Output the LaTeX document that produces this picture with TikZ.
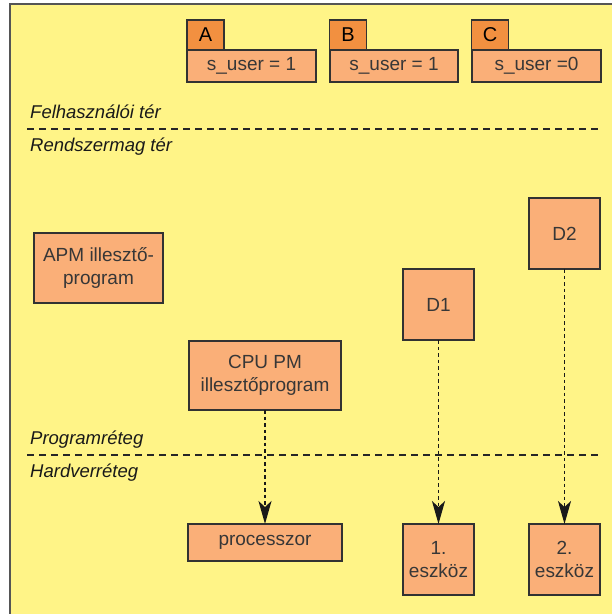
\documentclass[tikz,border=0pt]{standalone}
\usepackage{fontspec}
\setmainfont{Liberation Sans}
\usetikzlibrary{arrows.meta}
\definecolor{bgyellow}{RGB}{255,244,135}
\definecolor{lightorange}{RGB}{250,175,120}
\definecolor{taborange}{RGB}{242,144,64}
\definecolor{framegray}{RGB}{85,85,85}
\definecolor{boxline}{RGB}{50,50,50}
\definecolor{boxtext}{RGB}{55,55,55}
\tikzset{
  box/.style={draw=boxline, line width=1.4pt, fill=lightorange, text=boxtext,
    font=\fontsize{19}{23}\selectfont, align=center, inner sep=0pt, outer sep=0pt},
  tabbox/.style={draw=boxline, line width=1.4pt, fill=taborange, text=black,
    font=\fontsize{20}{22}\selectfont, inner sep=0pt, outer sep=0pt,
    minimum width=37pt, minimum height=30pt},
  layerlabel/.style={font=\fontsize{18.5}{22}\selectfont\itshape, text=black!90,
    anchor=base west, inner sep=0pt},
  separator/.style={line width=2pt, draw=black!85, dash pattern=on 7pt off 5pt},
  conn/.style={line width=1.5pt, draw=black!90, dash pattern=on 3.5pt off 3pt,
    -{Stealth[length=23pt,width=13pt,inset=6pt,sep=0pt]}},
}
\begin{document}
\begin{tikzpicture}[x=1pt,y=-1pt]
\useasboundingbox (0,0) rectangle (612,614);
% background frame
\fill[bgyellow] (10,4) rectangle (630,630);
\draw[framegray, line width=1.5pt] (630,4) -- (10,4) -- (10,630);

% processes A, B, C
\node[tabbox] (ta) at (205.5,35) {A};
\node[tabbox] (tb) at (348,35) {B};
\node[tabbox] (tc) at (490,35) {C};
\node[box, minimum width=129pt, minimum height=32pt] (sa) at (251.5,66) {s\_user = 1};
\node[box, minimum width=128pt, minimum height=32pt] (sb) at (394,66) {s\_user = 1};
\node[box, minimum width=129pt, minimum height=32pt] (sc) at (536.5,66) {s\_user =0};

% layer labels and separators
\node[layerlabel] (lfelh) at (30,118) {Felhasználói tér};
\coordinate (s1a) at (27,129);
\coordinate (s1b) at (600,129);
\draw[separator] (s1a) -- (s1b);
\node[layerlabel] (lrend) at (30,151) {Rendszermag tér};

\node[layerlabel] (lprog) at (30,444) {Programréteg};
\coordinate (s2a) at (27,455);
\coordinate (s2b) at (600,455);
\draw[separator] (s2a) -- (s2b);
\node[layerlabel] (lhard) at (30,477) {Hardverréteg};

% kernel boxes
\node[box, minimum width=129pt, minimum height=70pt] (apm) at (98.5,268) {APM illesztő-\\program};
\node[box, minimum width=152pt, minimum height=69pt] (cpu) at (265,375.5) {CPU PM\\illesztőprogram};
\node[box, minimum width=71pt, minimum height=71pt] (d1) at (438.5,304.5) {D1};
\node[box, minimum width=71pt, minimum height=71pt] (d2) at (564.5,233.5) {D2};

% hardware boxes
\node[box, minimum width=154pt, minimum height=37pt] (proc) at (265,542.5) {processzor};
\node[box, minimum width=71pt, minimum height=71pt] (e1) at (438.5,559.5) {1.\\eszköz};
\node[box, minimum width=71pt, minimum height=71pt] (e2) at (564.5,559.5) {2.\\eszköz};

% connectors
\draw[conn] (cpu.south) -- (proc.north);
\draw[conn] (d1.south) -- (e1.north);
\draw[conn] (d2.south) -- (e2.north);
\end{tikzpicture}
\end{document}
